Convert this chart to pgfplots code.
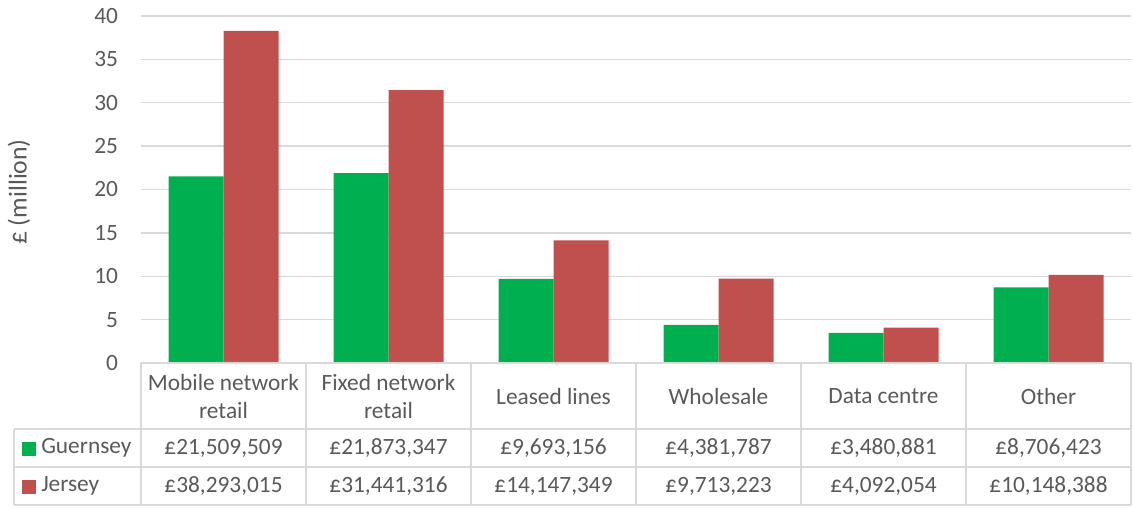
\documentclass[border=0pt]{standalone}
\usepackage{pgfplots}
\pgfplotsset{compat=1.18}
\usepackage{fontspec}
\setmainfont{Carlito}
\definecolor{gx}{HTML}{00B050}
\definecolor{jx}{HTML}{C0504D}
\definecolor{txt}{HTML}{595959}
\definecolor{grd}{HTML}{D9D9D9}
\begin{document}
\begin{tikzpicture}[x=0.75pt,y=0.75pt,font=\fontsize{17.5}{21}\selectfont,text=txt]
\begin{axis}[
  scale only axis, width=742.5pt, height=260.25pt,
  xmin=-0.5, xmax=5.5, ymin=0, ymax=40,
  ytick={0,5,...,40},
  xtick={0,...,5},
  xticklabels={{Mobile network\\retail},{Fixed network\\retail},{Leased lines},{Wholesale},{Data centre},{Other}},
  xticklabel style={align=center, anchor=center, yshift=-24.75pt, font=\fontsize{17.5}{21}\selectfont, text=txt},
  yticklabel style={anchor=east, inner sep=0pt, xshift=-17pt, font=\fontsize{17.5}{21}\selectfont, text=txt, /pgf/number format/assume math mode=true},
  axis line style={draw=none},
  major tick length=0pt,
  ymajorgrids, grid style={draw=grd, line width=1pt},
  ybar=0pt, bar width=0.33333,
  clip=false,
]
\addplot[fill=gx, draw=none, bar shift=-0.166667] coordinates {(0,21.509509) (1,21.873347) (2,9.693156) (3,4.381787) (4,3.480881) (5,8.706423)};
\addplot[fill=jx, draw=none, bar shift=0.166667] coordinates {(0,38.293015) (1,31.441316) (2,14.147349) (3,9.713223) (4,4.092054) (5,10.148388)};
\coordinate (ll) at (rel axis cs:0,0);
\end{axis}
\begin{scope}[shift={(ll)}]
\begin{scope}[shift={(-141,363)}]
\pgfresetboundingbox
\path[use as bounding box] (0,0) rectangle (1134,-507);
\begin{scope}[draw=grd, line width=1.3pt]
\draw (141,-363) -- (1131,-363);
\draw (14,-429) -- (1131,-429);
\draw (14,-467) -- (1131,-467);
\draw (14,-505) -- (1131,-505);
\draw (14,-429) -- (14,-505);
\foreach \xx in {141,306,471,636,801,966,1131} \draw (\xx,-363) -- (\xx,-505);
\end{scope}
\fill[gx] (22,-441.5) rectangle (36,-455.5);
\fill[jx] (22,-479.5) rectangle (36,-493.5);
\node[anchor=west, inner sep=0pt] at (41,-448) {Guernsey};
\node[anchor=west, inner sep=0pt] at (41,-486) {Jersey};
\node at (223.5,-448) {£21,509,509};
\node at (388.5,-448) {£21,873,347};
\node at (553.5,-448) {£9,693,156};
\node at (718.5,-448) {£4,381,787};
\node at (883.5,-448) {£3,480,881};
\node at (1048.5,-448) {£8,706,423};
\node at (223.5,-486) {£38,293,015};
\node at (388.5,-486) {£31,441,316};
\node at (553.5,-486) {£14,147,349};
\node at (718.5,-486) {£9,713,223};
\node at (883.5,-486) {£4,092,054};
\node at (1048.5,-486) {£10,148,388};
\node[rotate=90, font=\fontsize{19.3}{23}\selectfont] at (19,-192) {£ (million)};
\end{scope}
\end{scope}
\end{tikzpicture}
\end{document}
